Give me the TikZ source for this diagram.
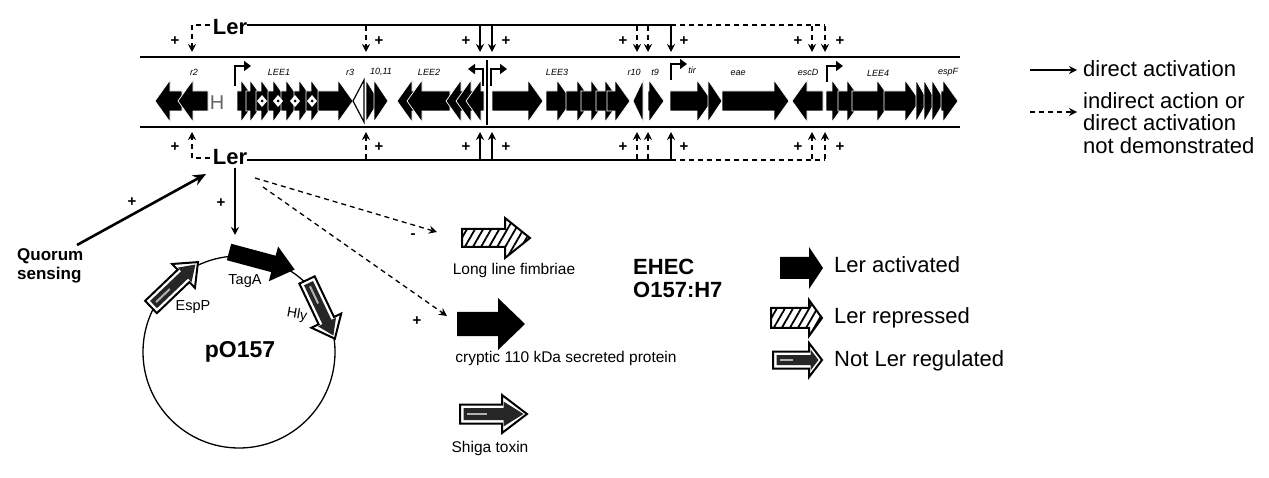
\documentclass[tikz,border=0pt]{standalone}
\usepackage{fontspec}
\setmainfont{Liberation Sans}
\usetikzlibrary{arrows.meta,patterns.meta}
\newcommand\ashape[4]{(0,-#2) -- ({#1-#4},-#2) -- ({#1-#4},-#3) -- (#1,0) -- ({#1-#4},#3) -- ({#1-#4},#2) -- (0,#2) -- cycle}
\newcommand\geneR[2]{\pgfmathsetmacro\ghb{max(#1,#2-15)}\filldraw[gene] (#1,91) -- (\ghb,91) -- (\ghb,80) -- (#2,101) -- (\ghb,122) -- (\ghb,111) -- (#1,111) -- cycle;}
\newcommand\geneL[2]{\pgfmathsetmacro\ghb{min(#2,#1+15)}\filldraw[gene] (#2,91) -- (\ghb,91) -- (\ghb,80) -- (#1,101) -- (\ghb,122) -- (\ghb,111) -- (#2,111) -- cycle;}
% not regulated arrow: x y angle L b h hl
\newcommand\notreg[7]{\pgfmathsetmacro\nL{#4-7}\pgfmathsetmacro\nb{#5-3.5}\pgfmathsetmacro\nh{#6-6.5}\pgfmathsetmacro\nhl{#7-5}%
 \begin{scope}[shift={(#1,#2)},rotate=#3]
 \filldraw[fill=white,draw=black,line width=2] \ashape{#4}{#5}{#6}{#7};
 \begin{scope}[xshift=3.5pt]\fill[black!85] \ashape{\nL}{\nb}{\nh}{\nhl};\end{scope}
 \fill[gray!60] (7,-1) rectangle ({#4*0.4},1);
 \end{scope}}
\newcommand\hatcharr[6]{\begin{scope}[shift={(#1,#2)}]
 \filldraw[draw=black,line width=2,pattern={Lines[angle=60,distance=7pt,line width=1.8pt]}] \ashape{#3}{#4}{#5}{#6};
 \end{scope}}
\newcommand\blackarr[7]{\begin{scope}[shift={(#1,#2)},rotate=#3]
 \fill \ashape{#4}{#5}{#6}{#7};\end{scope}}
\tikzset{
 gene/.style={fill=black,draw=white,line width=0.7},
 ler/.style={font=\bfseries\fontsize{22}{24}\selectfont,inner sep=0},
 plus/.style={font=\bfseries\fontsize{15}{15}\selectfont,inner sep=0},
 glab/.style={font=\itshape\fontsize{9}{10}\selectfont,inner sep=0},
 lbl/.style={font=\fontsize{22}{22.5}\selectfont,inner sep=0,anchor=west,align=left},
 small/.style={font=\fontsize{15.5}{17}\selectfont,inner sep=0},
 act/.style={line width=1.3,-{Stealth[length=8pt,width=8pt]}},
 ind/.style={act,dash pattern=on 5pt off 4pt},
 prom/.style={line width=2.6,-{Triangle[length=7pt,width=10pt]}},
 strand/.style={line width=2.5},
}
\begin{document}
\begin{tikzpicture}[x=1pt,y=-1pt]
\useasboundingbox (0,0) rectangle (1269,478);

% ---------- gene map ----------
\geneL{155}{182}
\geneL{178}{208}
\node[font=\fontsize{20}{20}\selectfont,text=black!60,inner sep=0] (hh) at (217,103) {H};
\geneR{237}{256}\geneR{246}{265}\geneR{256}{276}\geneR{268}{288}
\geneR{281}{301}\geneR{294}{314}\geneR{306}{326}\geneR{318}{353}
\foreach \d in {262,278,295,312}{\fill[white] (\d-5,101) -- (\d,95) -- (\d+5,101) -- (\d,107) -- cycle; \fill (\d,101) circle[radius=1.5pt];}
\filldraw[fill=white,draw=black,line width=1.2] (353,101) -- (364,80) -- (364,122) -- cycle;
\geneR{366}{379}\geneR{374}{388}
\geneL{397}{420}\geneL{407}{450}\geneL{446}{464}\geneL{456}{474}\geneL{466}{484}
\draw[line width=1.2] (487,60) -- (487,125);
\geneR{492}{543}\geneR{546}{572}\geneR{566}{592}\geneR{581}{606}\geneR{596}{620}\geneR{607}{630}
\geneL{633}{643}\geneR{648}{664}
\geneR{670}{712}\geneR{708}{722}\geneR{722}{789}
\geneL{792}{823}
\geneR{826}{847}\geneR{838}{862}\geneR{852}{892}\geneR{884}{920}
\geneR{916}{928}\geneR{924}{936}\geneR{932}{945}\geneR{941}{958}

\draw[strand] (140,57) -- (960,57);
\draw[strand] (140,127) -- (960,127);

% promoters
\draw[prom] (235,86) -- (235,66) -- (251,66);
\draw[prom] (483,86) -- (483,69) -- (468,69);
\draw[prom] (491,86) -- (491,69) -- (507,69);
\draw[prom] (671,80) -- (671,64) -- (687,64);
\draw[prom] (827,82) -- (827,66) -- (843,66);

% gene labels
\node[glab] at (194,72) {r2};
\node[glab] at (279,72) {LEE1};
\node[glab] at (350,72) {r3};
\node[glab] at (381,72) {10,11};
\node[glab] at (429,72) {LEE2};
\node[glab] at (557,72) {LEE3};
\node[glab] at (634,72) {r10};
\node[glab] at (655,72) {t9};
\node[glab] at (692,70) {tir};
\node[glab] at (738,73) {eae};
\node[glab] at (808,72) {escD};
\node[glab] at (878,73) {LEE4};
\node[glab] at (948,72) {espF};

% ---------- Ler regulation (top) ----------
\node[ler] (lerT) at (230,27) {Ler};
\coordinate (tEnd) at (671,25);
\coordinate (tDash) at (825,25);
\draw[line width=1.2] ([yshift=2pt]lerT.east) -- (tEnd);
\draw[line width=1.2,dash pattern=on 5pt off 4pt] (tEnd) -- (tDash);
\draw[ind] ([yshift=2pt,xshift=-3pt]lerT.west) -- (192,25) -- (192,52);
\foreach \x in {480,492,671}{\draw[act] (\x,25) -- (\x,52);}
\foreach \x in {366,637,648,812,825}{\draw[ind] (\x,26) -- (\x,52);}
\foreach \x in {175,379,466,506,623,684,798,840}{\node[plus] at (\x,41) {+};}

% ---------- Ler regulation (bottom) ----------
\node[ler] (lerB) at (230,157) {Ler};
\coordinate (bEnd) at (671,160);
\coordinate (bDash) at (825,160);
\draw[line width=1.2] ([yshift=-3pt]lerB.east) -- (bEnd);
\draw[line width=1.2,dash pattern=on 5pt off 4pt] (bEnd) -- (bDash);
\draw[ind] ([yshift=-1pt,xshift=-3pt]lerB.west) -- (192,158) -- (192,132);
\foreach \x in {480,492,671}{\draw[act] (\x,160) -- (\x,132);}
\foreach \x in {366,637,648,812,825}{\draw[ind] (\x,159) -- (\x,132);}
\foreach \x in {175,379,466,506,623,684,798,840}{\node[plus] at (\x,147) {+};}

% ---------- legend top right ----------
\coordinate (la1) at (1030,70); \coordinate (lb1) at (1077,70);
\coordinate (la2) at (1030,112); \coordinate (lb2) at (1077,112);
\draw[act] (la1) -- (lb1);
\draw[ind] (la2) -- (lb2);
\node[lbl] (lg1) at (1083,69) {direct activation};
\node[lbl] (lg2) at (1083,123) {indirect action or\\direct activation\\not demonstrated};

% ---------- quorum sensing & plasmid ----------
\node[font=\bfseries\fontsize{17}{19}\selectfont,inner sep=0,anchor=west,align=left] (qs) at (17,266) {Quorum\\sensing};
\coordinate (qsA) at (77,245);
\coordinate (qsB) at (206,174);
\draw[line width=2.6,-{Stealth[length=13pt,width=11pt]}] (qsA) -- (qsB);
\node[plus] at (132,202) {+};
\coordinate (vA) at (235,168);
\coordinate (vB) at (235,235);
\draw[act] (vA) -- (vB);
\node[plus] at (221,203) {+};

\coordinate (pc) at (239,352);
\draw[line width=1.3] (pc) circle[radius=96pt];
\blackarr{229}{252}{-15}{68}{8.5}{18}{22}
\notreg{151}{307}{43.7}{65}{8.5}{16.5}{20}
\notreg{307}{280}{-64.6}{65}{8.5}{16.5}{20}
\node[font=\fontsize{14.5}{15}\selectfont,inner sep=0] (taga) at (245,281) {TagA};
\node[font=\fontsize{14.5}{15}\selectfont,inner sep=0] (espp) at (193,307) {EspP};
\node[font=\fontsize{14}{15}\selectfont,inner sep=0,rotate=-10] (hly) at (297,315) {Hly};
\node[font=\bfseries\fontsize{23}{24}\selectfont,inner sep=0] (po) at (240,352) {pO157};

% ---------- dashed targets ----------
\coordinate (dA) at (255,178); \coordinate (dB) at (437,232);
\coordinate (dC) at (263,187); \coordinate (dD) at (447,316);
\draw[ind] (dA) -- (dB);
\draw[ind] (dC) -- (dD);
\node[plus] at (413,236) {-};
\node[plus] at (417,321) {+};

\hatcharr{462}{238}{68}{9}{20}{25}
\node[small] (llf) at (514,270) {Long line fimbriae};
\blackarr{457}{324}{0}{68}{12}{26}{27}
\node[small] (cry) at (566,358) {cryptic 110 kDa secreted protein};
\notreg{460}{414}{0}{67}{9.5}{19}{25}
\node[small] (shg) at (490,448) {Shiga toxin};

\node[font=\bfseries\fontsize{22}{23}\selectfont,inner sep=0,anchor=west,align=left] (ehec) at (633,278) {EHEC\\O157:H7};

% ---------- legend right ----------
\blackarr{780}{268}{0}{43}{11}{21}{14}
\node[lbl] (la) at (834,265) {Ler activated};
\hatcharr{771}{318}{51}{10}{18}{13}
\node[lbl] (lr) at (834,318) {Ler repressed};
\notreg{773}{360}{0}{49}{8.5}{17}{13}
\node[lbl] (ln) at (834,361) {Not Ler regulated};
\end{tikzpicture}
\end{document}
